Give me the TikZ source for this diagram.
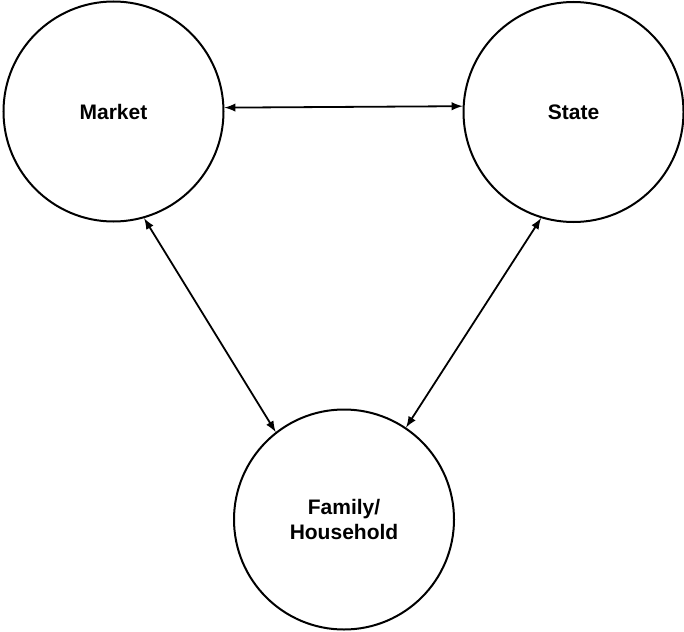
\documentclass[tikz,border=0pt]{standalone}
\usepackage{fontspec}
\setmainfont{Liberation Sans}
\usepackage{tikz}
\usetikzlibrary{arrows, positioning}

\tikzset{
    sector/.style={draw, circle, line width=1pt, minimum size=110pt, inner sep=0pt,
        align=center, font=\fontsize{10.5}{12.5}\selectfont\bfseries},
    link/.style={line width=0.9pt, <->, >=latex}
}

\begin{document}
\begin{tikzpicture}[x=0.5pt, y=-0.5pt]
\useasboundingbox (0,0) rectangle (684,631);

% the three sectors
\node[sector] (market) at (113.5,111.5) {Market};
\node[sector] (state) at (573.5,112) {State};
\node[sector] (family) at (344,519.5) {Family/\\Household};

% links between them
\draw[link] (market.2) -- (state.177.5);
\draw[link] (market.-74) -- (family.128);
\draw[link] (state.253) -- (family.56);
\end{tikzpicture}
\end{document}
